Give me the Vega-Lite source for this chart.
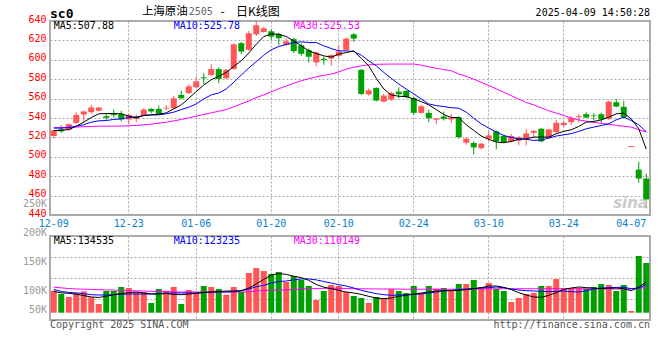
{
"$schema": "https://vega.github.io/schema/vega-lite/v6.json",
"background": "white",
"autosize": {"type": "pad"},
"padding": {"left": 21, "top": 4, "right": 5, "bottom": 4},
"bounds": "flush",
"spacing": 21,
"datasets": {
"k": [
{"d":"2024-12-09","o":521.4,"h":527.5,"l":518.6,"c":527.2,"m5":527,"m10":529.7,"m30":529.9,"v":96600,"v5":93000,"v10":102000,"v30":112000},
{"d":"2024-12-10","o":528.2,"h":532.3,"l":524.8,"c":526.2,"m5":527.5,"m10":529.5,"m30":530.2,"v":82000,"v5":87000,"v10":93000,"v30":109000},
{"d":"2024-12-11","o":527.9,"h":534.2,"l":527.2,"c":533.7,"m5":528,"m10":530.2,"m30":530.4,"v":68900,"v5":85000,"v10":89000,"v30":106000},
{"d":"2024-12-12","o":535,"h":546,"l":534,"c":543.2,"m5":531.6,"m10":531.6,"m30":530.6,"v":86400,"v5":81000,"v10":87000,"v30":104000},
{"d":"2024-12-13","o":543.6,"h":547.7,"l":536,"c":546.7,"m5":535.7,"m10":533,"m30":531,"v":93700,"v5":75000,"v10":83000,"v30":103000},
{"d":"2024-12-16","o":546,"h":553.5,"l":544.6,"c":550.8,"m5":540.5,"m10":535.7,"m30":531.3,"v":67400,"v5":69000,"v10":79000,"v30":102000},
{"d":"2024-12-17","o":547.4,"h":551.5,"l":546.7,"c":550.8,"m5":544.3,"m10":537.1,"m30":531.5,"v":38200,"v5":67000,"v10":77600,"v30":101000},
{"d":"2024-12-18","o":541.9,"h":544.6,"l":538.1,"c":540.2,"m5":544.6,"m10":537.4,"m30":531.6,"v":95200,"v5":72000,"v10":77600,"v30":100000},
{"d":"2024-12-19","o":544.3,"h":548.7,"l":540.2,"c":542.9,"m5":544.6,"m10":538.5,"m30":531.6,"v":95200,"v5":79000,"v10":79000,"v30":99000},
{"d":"2024-12-20","o":544.3,"h":547.4,"l":536.4,"c":538.5,"m5":544.3,"m10":539.1,"m30":531.7,"v":112700,"v5":84000,"v10":81000,"v30":98000},
{"d":"2024-12-23","o":538.5,"h":544.3,"l":533.7,"c":543.2,"m5":541.9,"m10":540.5,"m30":532,"v":108300,"v5":88000,"v10":82000,"v30":97000},
{"d":"2024-12-24","o":539.1,"h":543.6,"l":535.7,"c":541.9,"m5":540.2,"m10":540.9,"m30":532.3,"v":90800,"v5":90800,"v10":82000,"v30":96000},
{"d":"2024-12-25","o":542.6,"h":550.1,"l":541.9,"c":548.7,"m5":542.6,"m10":542.6,"m30":533,"v":90800,"v5":86000,"v10":82000,"v30":95000},
{"d":"2024-12-26","o":549.4,"h":550.1,"l":545,"c":546.7,"m5":543.2,"m10":543.2,"m30":533.7,"v":42500,"v5":82000,"v10":82000,"v30":94000},
{"d":"2024-12-27","o":549.4,"h":552.8,"l":543.6,"c":544.3,"m5":543.9,"m10":543.2,"m30":534.7,"v":103900,"v5":82000,"v10":84000,"v30":93000},
{"d":"2024-12-30","o":549.8,"h":553.5,"l":547.7,"c":550.6,"m5":545.3,"m10":544.3,"m30":535.7,"v":96600,"v5":84000,"v10":86000,"v30":92000},
{"d":"2024-12-31","o":550.1,"h":563,"l":549.4,"c":560.3,"m5":549.4,"m10":546,"m30":537,"v":112700,"v5":80000,"v10":86400,"v30":91000},
{"d":"2025-01-02","o":563.8,"h":568.2,"l":559.7,"c":560.3,"m5":553.5,"m10":548.7,"m30":538.5,"v":38200,"v5":79000,"v10":86400,"v30":90800},
{"d":"2025-01-03","o":565.8,"h":575,"l":564.8,"c":572.6,"m5":560.3,"m10":551.1,"m30":540.2,"v":99600,"v5":82000,"v10":86400,"v30":90800},
{"d":"2025-01-06","o":571.6,"h":582.9,"l":570.6,"c":577.8,"m5":567.2,"m10":554.5,"m30":541.9,"v":90800,"v5":85000,"v10":86400,"v30":90800},
{"d":"2025-01-07","o":581.9,"h":586.3,"l":575,"c":580.9,"m5":574,"m10":559.7,"m30":543.6,"v":117100,"v5":89000,"v10":88000,"v30":90800},
{"d":"2025-01-08","o":584.3,"h":595.6,"l":582.9,"c":590.4,"m5":579.5,"m10":563.8,"m30":545.3,"v":112700,"v5":90800,"v10":90000,"v30":90800},
{"d":"2025-01-09","o":590.4,"h":592.1,"l":576,"c":580.2,"m5":582.9,"m10":565.8,"m30":547,"v":103900,"v5":93000,"v10":90800,"v30":90800},
{"d":"2025-01-10","o":580.9,"h":590.4,"l":580.2,"c":589.7,"m5":587,"m10":569.9,"m30":548.7,"v":79100,"v5":95000,"v10":90800,"v30":90800},
{"d":"2025-01-13","o":590.4,"h":617,"l":590,"c":616,"m5":593.2,"m10":576.8,"m30":551.5,"v":112700,"v5":95000,"v10":92000,"v30":90800},
{"d":"2025-01-14","o":617.1,"h":618.5,"l":605.8,"c":608.5,"m5":599,"m10":584.3,"m30":554.5,"v":90800,"v5":97000,"v10":96000,"v30":90800},
{"d":"2025-01-15","o":610.3,"h":629.7,"l":609.2,"c":627.4,"m5":607,"m10":591.5,"m30":557.5,"v":174100,"v5":108000,"v10":104000,"v30":92000},
{"d":"2025-01-16","o":626.3,"h":640,"l":624.6,"c":635.6,"m5":616,"m10":598,"m30":561,"v":196000,"v5":126000,"v10":114000,"v30":95000},
{"d":"2025-01-17","o":628.7,"h":634,"l":628,"c":632.5,"m5":624,"m10":604.8,"m30":563.8,"v":182900,"v5":146000,"v10":120000,"v30":97000},
{"d":"2025-01-20","o":629.4,"h":631.5,"l":620.5,"c":623.9,"m5":626.7,"m10":610.3,"m30":567,"v":169700,"v5":165000,"v10":130000,"v30":99000},
{"d":"2025-01-21","o":626.7,"h":628,"l":615,"c":622.2,"m5":626.3,"m10":613.7,"m30":570.2,"v":178500,"v5":172000,"v10":137000,"v30":99600},
{"d":"2025-01-22","o":615.4,"h":622,"l":614.4,"c":619.1,"m5":624,"m10":615.7,"m30":573,"v":134600,"v5":168000,"v10":139000,"v30":100000},
{"d":"2025-01-23","o":621.2,"h":622.9,"l":606.8,"c":608.9,"m5":619.5,"m10":617.8,"m30":575.8,"v":161000,"v5":160000,"v10":144000,"v30":102000},
{"d":"2025-01-24","o":615,"h":617,"l":604,"c":606.2,"m5":614.4,"m10":618.5,"m30":578.4,"v":143400,"v5":154000,"v10":148000,"v30":104000},
{"d":"2025-01-27","o":609.9,"h":611.6,"l":597.3,"c":603.1,"m5":609.2,"m10":617.8,"m30":580.5,"v":117100,"v5":142000,"v10":148000,"v30":105000},
{"d":"2025-02-05","o":597.3,"h":608.5,"l":593.2,"c":607.5,"m5":606.5,"m10":617.8,"m30":582.5,"v":55700,"v5":124000,"v10":144000,"v30":106000},
{"d":"2025-02-06","o":601,"h":603.4,"l":594.9,"c":599.7,"m5":604.1,"m10":614.4,"m30":584,"v":95200,"v5":112000,"v10":137000,"v30":106800},
{"d":"2025-02-07","o":601.4,"h":605.8,"l":593.8,"c":604.8,"m5":602.7,"m10":611.6,"m30":585.3,"v":121500,"v5":105400,"v10":130000,"v30":107000},
{"d":"2025-02-10","o":604.1,"h":615,"l":602.4,"c":608.5,"m5":605.8,"m10":609.2,"m30":587.5,"v":117100,"v5":98100,"v10":122900,"v30":107000},
{"d":"2025-02-11","o":610.3,"h":622.9,"l":609.2,"c":621.9,"m5":607.5,"m10":609.2,"m30":590.4,"v":90800,"v5":90800,"v10":117100,"v30":106000},
{"d":"2025-02-12","o":626.3,"h":627.4,"l":618.5,"c":621.9,"m5":609.2,"m10":608.5,"m30":592.3,"v":73200,"v5":86400,"v10":108300,"v30":105000},
{"d":"2025-02-13","o":589.7,"h":590.4,"l":563.8,"c":564.8,"m5":601.4,"m10":604.8,"m30":593.8,"v":64500,"v5":80500,"v10":98100,"v30":105000},
{"d":"2025-02-14","o":564.4,"h":570.3,"l":563.1,"c":568.5,"m5":593.8,"m10":599,"m30":594.8,"v":42500,"v5":71700,"v10":90800,"v30":104500},
{"d":"2025-02-17","o":571,"h":571.6,"l":557,"c":558,"m5":580.9,"m10":593.8,"m30":595.3,"v":68900,"v5":64500,"v10":83500,"v30":104000},
{"d":"2025-02-18","o":556.9,"h":564.8,"l":556.2,"c":563.1,"m5":570,"m10":587,"m30":595.5,"v":61500,"v5":61500,"v10":79100,"v30":104000},
{"d":"2025-02-19","o":559,"h":567.2,"l":557.6,"c":565.8,"m5":563.8,"m10":580.9,"m30":595.6,"v":103900,"v5":64500,"v10":76200,"v30":104000},
{"d":"2025-02-20","o":567.2,"h":571.6,"l":560.3,"c":564.4,"m5":562.4,"m10":575,"m30":595.6,"v":95200,"v5":71700,"v10":77600,"v30":103500},
{"d":"2025-02-21","o":567.9,"h":569.2,"l":560.3,"c":561.4,"m5":562.1,"m10":569.9,"m30":595.6,"v":86400,"v5":76200,"v10":79100,"v30":103000},
{"d":"2025-02-24","o":560.7,"h":562.4,"l":543.2,"c":545.3,"m5":559.7,"m10":564.8,"m30":595.6,"v":117100,"v5":82000,"v10":80500,"v30":103000},
{"d":"2025-02-25","o":545.3,"h":553.5,"l":544.3,"c":552.1,"m5":556.9,"m10":559.7,"m30":594.5,"v":86400,"v5":86400,"v10":82000,"v30":103000},
{"d":"2025-02-26","o":545.3,"h":548.7,"l":535.7,"c":539.8,"m5":553.5,"m10":554.5,"m30":592.8,"v":117100,"v5":90800,"v10":86400,"v30":103000},
{"d":"2025-02-27","o":538.2,"h":540,"l":533.7,"c":539.5,"m5":548.7,"m10":552.8,"m30":591.2,"v":105400,"v5":95200,"v10":90800,"v30":103000},
{"d":"2025-02-28","o":541.5,"h":546.7,"l":537.4,"c":539.1,"m5":543.6,"m10":551.8,"m30":590,"v":108300,"v5":96600,"v10":95200,"v30":103000},
{"d":"2025-03-03","o":538.5,"h":544.3,"l":535,"c":540.5,"m5":540.5,"m10":550.6,"m30":588.7,"v":96600,"v5":96600,"v10":98100,"v30":103000},
{"d":"2025-03-04","o":540.9,"h":541.9,"l":518.6,"c":520.3,"m5":540.5,"m10":550.1,"m30":585.5,"v":125900,"v5":98100,"v10":101100,"v30":103000},
{"d":"2025-03-05","o":514.5,"h":520.3,"l":512.5,"c":518.6,"m5":533,"m10":546,"m30":583,"v":125900,"v5":101100,"v10":103900,"v30":103000},
{"d":"2025-03-06","o":514.2,"h":515.9,"l":502.2,"c":509.7,"m5":527.2,"m10":539.8,"m30":580,"v":143400,"v5":105400,"v10":105400,"v30":103500},
{"d":"2025-03-07","o":509,"h":514.2,"l":507.7,"c":513.5,"m5":521.4,"m10":534,"m30":576.8,"v":112700,"v5":109800,"v10":108300,"v30":104000},
{"d":"2025-03-10","o":518.6,"h":526.2,"l":516,"c":522,"m5":518,"m10":529.6,"m30":573.5,"v":130300,"v5":117100,"v10":109800,"v30":104500},
{"d":"2025-03-11","o":526.2,"h":527.2,"l":507.7,"c":515.9,"m5":515.2,"m10":525.5,"m30":570,"v":103900,"v5":117100,"v10":112700,"v30":105000},
{"d":"2025-03-12","o":521.4,"h":522.7,"l":514.5,"c":515.2,"m5":514.5,"m10":522,"m30":566.5,"v":95200,"v5":111200,"v10":109800,"v30":105000},
{"d":"2025-03-13","o":515.9,"h":523.5,"l":514.5,"c":521.4,"m5":515.9,"m10":520,"m30":563,"v":46900,"v5":101100,"v10":103900,"v30":105000},
{"d":"2025-03-14","o":516.6,"h":521.4,"l":511.8,"c":520,"m5":518,"m10":518.6,"m30":559.5,"v":64500,"v5":87800,"v10":99600,"v30":105000},
{"d":"2025-03-17","o":518.6,"h":528.9,"l":511.8,"c":524.1,"m5":518.6,"m10":518,"m30":556,"v":82000,"v5":77600,"v10":96600,"v30":105000},
{"d":"2025-03-18","o":524.8,"h":527.5,"l":519.3,"c":526.8,"m5":520.3,"m10":516.9,"m30":553.5,"v":86400,"v5":68900,"v10":95200,"v30":105000},
{"d":"2025-03-19","o":528.9,"h":529.6,"l":515.2,"c":515.9,"m5":520.3,"m10":517.3,"m30":550.5,"v":117100,"v5":67400,"v10":93700,"v30":105000},
{"d":"2025-03-20","o":519.3,"h":528.9,"l":518.6,"c":528.2,"m5":520.3,"m10":519.3,"m30":547.5,"v":117100,"v5":76200,"v10":92200,"v30":105000},
{"d":"2025-03-21","o":525.5,"h":538.1,"l":523.8,"c":535,"m5":523.8,"m10":521.4,"m30":545,"v":147800,"v5":87800,"v10":93700,"v30":105000},
{"d":"2025-03-24","o":532.8,"h":537.4,"l":530.3,"c":535,"m5":526.2,"m10":522.7,"m30":542.5,"v":108300,"v5":102500,"v10":95200,"v30":105000},
{"d":"2025-03-25","o":535.7,"h":541.9,"l":533,"c":539.8,"m5":527.9,"m10":523.8,"m30":540,"v":108300,"v5":108300,"v10":92200,"v30":105000},
{"d":"2025-03-26","o":540.9,"h":544.3,"l":535.7,"c":541.9,"m5":531.3,"m10":526.2,"m30":538,"v":108300,"v5":112700,"v10":90800,"v30":105000},
{"d":"2025-03-27","o":543.9,"h":545.9,"l":539.8,"c":540.5,"m5":535.7,"m10":528.9,"m30":536.7,"v":103900,"v5":109800,"v10":96600,"v30":105000},
{"d":"2025-03-28","o":542.6,"h":544.9,"l":537.4,"c":541.9,"m5":536.4,"m10":530.6,"m30":535.5,"v":112700,"v5":108300,"v10":103900,"v30":105000},
{"d":"2025-03-31","o":543.9,"h":545.3,"l":534.3,"c":538.5,"m5":538.1,"m10":532.3,"m30":534.5,"v":125900,"v5":105400,"v10":108300,"v30":104500},
{"d":"2025-04-01","o":539.1,"h":557.9,"l":538.1,"c":556.9,"m5":540.9,"m10":534,"m30":533.3,"v":121500,"v5":106800,"v10":109800,"v30":104000},
{"d":"2025-04-02","o":556.2,"h":559.7,"l":551.1,"c":551.8,"m5":544.3,"m10":538.1,"m30":532.5,"v":95200,"v5":108300,"v10":111200,"v30":104000},
{"d":"2025-04-03","o":551.5,"h":557.6,"l":539.8,"c":540.9,"m5":545,"m10":540.9,"m30":531.5,"v":121500,"v5":105400,"v10":111200,"v30":104000},
{"d":"2025-04-07","o":510,"h":511,"l":510,"c":511,"m5":539.1,"m10":537.4,"m30":530.6,"v":7500,"v5":96600,"v10":105400,"v30":104000},
{"d":"2025-04-08","o":486.8,"h":494.7,"l":473.2,"c":477.6,"m5":528.9,"m10":533,"m30":528,"v":248700,"v5":112000,"v10":108300,"v30":107000},
{"d":"2025-04-09","o":477.6,"h":482.7,"l":446.8,"c":456.1,"m5":507.88,"m10":525.78,"m30":525.53,"v":218000,"v5":134535,"v10":123235,"v30":110149}
]
},
"config": {
"view": {"stroke": "#aaaaaa", "strokeWidth": 2},
"axis": {"ticks": false, "domain": false, "gridColor": "#aaaaaa", "gridDash": [2, 2], "gridWidth": 1, "labelFont": "DejaVu Sans Mono", "labelFontSize": 10},
"text": {"font": "DejaVu Sans Mono", "fontSize": 10},
"line": {"strokeWidth": 1}
},
"vconcat": [
{
"width": 600,
"height": 194,
"data": {"name": "k"},
"layer": [
{
"mark": {"type": "rule", "strokeWidth": 1},
"encoding": {
"x": {"field": "d", "type": "ordinal", "title": null, "scale": {"type": "band", "paddingInner": 0, "paddingOuter": 0},
"axis": {"values": ["2024-12-09","2024-12-23","2025-01-06","2025-01-20","2025-02-10","2025-02-24","2025-03-10","2025-03-24","2025-04-07"], "labelExpr": "slice(datum.value, 5)", "labelColor": "#0a80cc", "labelAngle": 0, "labelPadding": 3, "labelOverlap": false, "grid": true, "gridOpacity": {"condition": {"test": "datum.value == '2024-12-09' || datum.value == '2025-04-07'", "value": 0}, "value": 1}}},
"y": {"field": "l", "type": "quantitative", "title": null, "scale": {"domain": [440, 640], "nice": false, "zero": false},
"axis": {"values": [440,460,480,500,520,540,560,580,600,620,640], "tickCount": 30, "labelOverlap": false, "labelColor": "#ff0000", "labelPadding": 4, "labelOffset": -2, "grid": true}},
"y2": {"field": "h"},
"color": {"condition": {"test": "datum.c >= datum.o", "value": "#ff5555"}, "value": "#00a000"}
}
},
{
"data": {"values": [{"t": "sina"}]},
"mark": {"type": "text", "align": "right", "dx": -2, "font": "DejaVu Sans", "fontSize": 15, "fontStyle": "italic", "fontWeight": "bold", "color": "#cccccc"},
"encoding": {"x": {"datum": "2025-04-09", "type": "ordinal", "bandPosition": 1, "title": null}, "y": {"datum": 452.4, "type": "quantitative", "title": null}, "text": {"field": "t"}}
},
{
"mark": {"type": "bar", "size": 6},
"encoding": {
"x": {"field": "d", "type": "ordinal", "title": null},
"y": {"field": "o", "type": "quantitative", "title": null},
"y2": {"field": "c"},
"color": {"condition": {"test": "datum.c >= datum.o", "value": "#ff5555"}, "value": "#00a000"}
}
},
{"mark": {"type": "line", "color": "#ff00ff", "strokeWidth": 1}, "encoding": {"x": {"field": "d", "type": "ordinal", "title": null}, "y": {"field": "m30", "type": "quantitative", "title": null}}},
{"mark": {"type": "line", "color": "#0000ff", "strokeWidth": 1}, "encoding": {"x": {"field": "d", "type": "ordinal", "title": null}, "y": {"field": "m10", "type": "quantitative", "title": null}}},
{"mark": {"type": "line", "color": "#000000", "strokeWidth": 1}, "encoding": {"x": {"field": "d", "type": "ordinal", "title": null}, "y": {"field": "m5", "type": "quantitative", "title": null}}},
{"data": {"values": [{"t": "MA5:507.88"}]}, "mark": {"type": "text", "align": "left", "color": "#000000"}, "encoding": {"x": {"datum": "2024-12-09", "type": "ordinal", "title": null}, "y": {"datum": 635.2, "type": "quantitative", "title": null}, "text": {"field": "t"}}},
{"data": {"values": [{"t": "MA10:525.78"}]}, "mark": {"type": "text", "align": "left", "color": "#0000ff"}, "encoding": {"x": {"datum": "2024-12-31", "type": "ordinal", "title": null}, "y": {"datum": 635.2, "type": "quantitative", "title": null}, "text": {"field": "t"}}},
{"data": {"values": [{"t": "MA30:525.53"}]}, "mark": {"type": "text", "align": "left", "color": "#ff00ff"}, "encoding": {"x": {"datum": "2025-01-23", "type": "ordinal", "title": null}, "y": {"datum": 635.2, "type": "quantitative", "title": null}, "text": {"field": "t"}}},
{"data": {"values": [{"t": "sc0"}]}, "mark": {"type": "text", "align": "left", "fontSize": 13, "fontWeight": "bold", "color": "#000000"}, "encoding": {"x": {"datum": "2024-12-09", "type": "ordinal", "bandPosition": 0, "title": null}, "y": {"datum": 647.2, "type": "quantitative", "title": null}, "text": {"field": "t"}}},
{"data": {"values": [{"t": "上海原油"}]}, "mark": {"type": "text", "align": "left", "font": "Noto Sans CJK SC", "fontSize": 11.5, "color": "#000000"}, "encoding": {"x": {"datum": "2024-12-25", "type": "ordinal", "bandPosition": 0.25, "title": null}, "y": {"datum": 649.3, "type": "quantitative", "title": null}, "text": {"field": "t"}}},
{"data": {"values": [{"t": "2505"}]}, "mark": {"type": "text", "align": "left", "color": "#666666"}, "encoding": {"x": {"datum": "2025-01-03", "type": "ordinal", "bandPosition": 0.5, "title": null}, "y": {"datum": 648.8, "type": "quantitative", "title": null}, "text": {"field": "t"}}},
{"data": {"values": [{"t": "-"}]}, "mark": {"type": "text", "align": "center", "font": "Noto Sans CJK SC", "fontSize": 12, "color": "#000000"}, "encoding": {"x": {"datum": "2025-01-09", "type": "ordinal", "bandPosition": 1, "title": null}, "y": {"datum": 649.3, "type": "quantitative", "title": null}, "text": {"field": "t"}}},
{"data": {"values": [{"t": "日K线图"}]}, "mark": {"type": "text", "align": "left", "font": "Noto Sans CJK SC", "fontSize": 12, "color": "#000000"}, "encoding": {"x": {"datum": "2025-01-13", "type": "ordinal", "bandPosition": 0.8, "title": null}, "y": {"datum": 649.3, "type": "quantitative", "title": null}, "text": {"field": "t"}}},
{"data": {"values": [{"t": "2025-04-09 14:50:28"}]}, "mark": {"type": "text", "align": "right", "color": "#000000"}, "encoding": {"x": {"datum": "2025-04-09", "type": "ordinal", "bandPosition": 1, "title": null}, "y": {"datum": 648.2, "type": "quantitative", "title": null}, "text": {"field": "t"}}}
]
},
{
"width": 600,
"height": 84,
"layer": [
{
"data": {"name": "k"},
"layer": [
{
"mark": {"type": "bar", "size": 6},
"encoding": {
"x": {"field": "d", "type": "ordinal", "title": null, "scale": {"type": "band", "paddingInner": 0, "paddingOuter": 0},
"axis": {"values": ["2024-12-09","2024-12-23","2025-01-06","2025-01-20","2025-02-10","2025-02-24","2025-03-10","2025-03-24","2025-04-07"], "labels": false, "grid": true, "gridOpacity": {"condition": {"test": "datum.value == '2024-12-09' || datum.value == '2025-04-07'", "value": 0}, "value": 1}}},
"y": {"field": "v", "type": "quantitative", "title": null, "scale": {"domain": [-32000, 336400], "nice": false, "zero": false},
"axis": {"values": [60100, 152200, 244300], "tickCount": 30, "labels": false, "grid": true}},
"y2": {"datum": 0},
"color": {"condition": {"test": "datum.c >= datum.o", "value": "#ff5555"}, "value": "#00a000"}
}
},
{"mark": {"type": "line", "color": "#ff00ff", "strokeWidth": 1}, "encoding": {"x": {"field": "d", "type": "ordinal", "title": null}, "y": {"field": "v30", "type": "quantitative", "title": null}}},
{"mark": {"type": "line", "color": "#0000ff", "strokeWidth": 1}, "encoding": {"x": {"field": "d", "type": "ordinal", "title": null}, "y": {"field": "v10", "type": "quantitative", "title": null}}},
{"mark": {"type": "line", "color": "#000000", "strokeWidth": 1}, "encoding": {"x": {"field": "d", "type": "ordinal", "title": null}, "y": {"field": "v5", "type": "quantitative", "title": null}}},
{"data": {"values": [{"t": "MA5:134535"}]}, "mark": {"type": "text", "align": "left", "color": "#000000"}, "encoding": {"x": {"datum": "2024-12-09", "type": "ordinal", "title": null}, "y": {"datum": 314500, "type": "quantitative", "title": null}, "text": {"field": "t"}}},
{"data": {"values": [{"t": "MA10:123235"}]}, "mark": {"type": "text", "align": "left", "color": "#0000ff"}, "encoding": {"x": {"datum": "2024-12-31", "type": "ordinal", "title": null}, "y": {"datum": 314500, "type": "quantitative", "title": null}, "text": {"field": "t"}}},
{"data": {"values": [{"t": "MA30:110149"}]}, "mark": {"type": "text", "align": "left", "color": "#ff00ff"}, "encoding": {"x": {"datum": "2025-01-23", "type": "ordinal", "title": null}, "y": {"datum": 314500, "type": "quantitative", "title": null}, "text": {"field": "t"}}},
{"data": {"values": [{"t": "Copyright 2025 SINA.COM"}]}, "mark": {"type": "text", "align": "left", "color": "#555555"}, "encoding": {"x": {"datum": "2024-12-09", "type": "ordinal", "bandPosition": 0, "title": null}, "y": {"datum": -54000, "type": "quantitative", "title": null}, "text": {"field": "t"}}},
{"data": {"values": [{"t": "http://finance.sina.com.cn"}]}, "mark": {"type": "text", "align": "right", "color": "#555555"}, "encoding": {"x": {"datum": "2025-04-09", "type": "ordinal", "bandPosition": 1, "title": null}, "y": {"datum": -54000, "type": "quantitative", "title": null}, "text": {"field": "t"}}}
]
},
{
"data": {"values": [{"k": 250000, "t": "250K"}, {"k": 200000, "t": "200K"}, {"k": 150000, "t": "150K"}, {"k": 100000, "t": "100K"}, {"k": 50000, "t": "50K"}]},
"mark": {"type": "text", "align": "right", "dx": -3, "color": "#999999", "dy": {"expr": "datum.k == 50000 ? -10 : 0"}},
"encoding": {
"x": {"datum": "2024-12-09", "type": "ordinal", "bandPosition": 0, "title": null},
"y": {"field": "k", "type": "quantitative", "scale": {"domain": [50000, 194828], "nice": false, "zero": false}, "axis": null},
"text": {"field": "t"}
}
}
],
"resolve": {"scale": {"y": "independent"}}
}
]
}
